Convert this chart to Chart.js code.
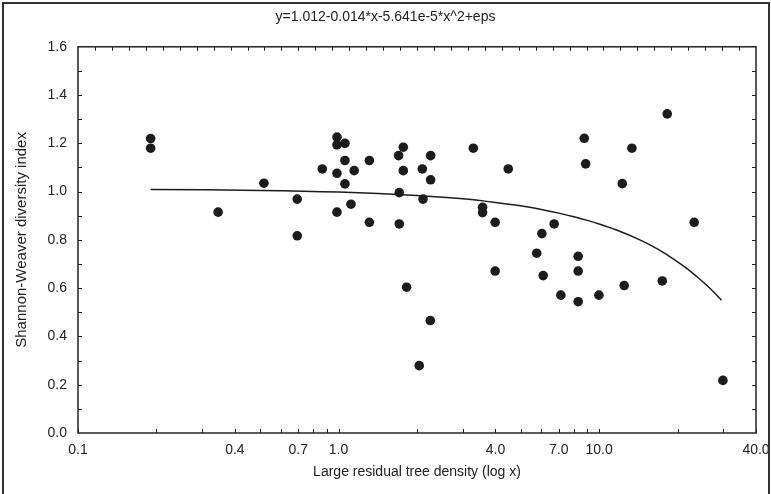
<!DOCTYPE html>
<html>
<head>
<meta charset="utf-8">
<script src="https://cdn.jsdelivr.net/npm/chart.js@4.4.1/dist/chart.umd.min.js"></script>
<style>
  html, body { margin: 0; padding: 0; background: #fff; }
  #wrap { position: relative; width: 771px; height: 494px; overflow: hidden; }
  #frame { position: absolute; left: 2px; top: 2px; width: 764px; height: 500px;
           border: 2px solid #333; pointer-events: none; }
</style>
</head>
<body>
<div id="wrap">
  <canvas id="myChart" width="771" height="494"></canvas>
  <div id="frame"></div>
</div>
<script>
  const titleText = "y=1.012-0.014*x-5.641e-5*x^2+eps";
  const xTitle = "Large residual tree density (log x)";
  const yTitle = "Shannon-Weaver diversity index";

  // tick labels on the log axis
  const xTickValues = [0.1, 0.4, 0.7, 1.0, 4.0, 7.0, 10.0, 40.0];

  const densityX = [
    0.19, 0.19, 0.345, 0.517, 0.694, 0.694, 0.866, 0.986, 0.986, 1.058,
    0.986, 1.058, 1.148, 1.058, 0.986, 1.116, 1.313, 1.313, 1.772, 1.70,
    1.772, 1.71, 1.71, 2.256, 2.096, 2.256, 2.11, 1.825, 2.249, 2.04,
    3.29, 3.57, 3.57, 3.99, 3.99, 4.48, 6.72, 6.03, 5.76, 6.10,
    7.13, 8.31, 8.31, 8.31, 8.77, 8.88, 9.98, 12.27, 13.36, 12.48,
    17.47, 18.25, 23.17, 29.86
  ];
  const diversityY = [
    1.22, 1.18, 0.915, 1.035, 0.969, 0.817, 1.094, 1.226, 1.194, 1.20,
    1.076, 1.129, 1.087, 1.032, 0.915, 0.948, 1.129, 0.873, 1.184, 1.149,
    1.087, 0.996, 0.866, 1.149, 1.094, 1.049, 0.969, 0.604, 0.466, 0.279,
    1.18, 0.935, 0.913, 0.873, 0.671, 1.094, 0.866, 0.826, 0.745, 0.652,
    0.571, 0.732, 0.671, 0.544, 1.221, 1.115, 0.571, 1.033, 1.18, 0.611,
    0.630, 1.322, 0.873, 0.218
  ];

  // fitted curve, read at a few x positions
  const fitX = [0.19, 0.5, 1, 2, 3, 4, 5, 6, 7, 8, 9, 10, 12, 14, 16, 18, 20, 22, 24, 26, 28, 29.5];
  const fitY = [1.009, 1.005, 0.998, 0.984, 0.970, 0.955, 0.941, 0.926, 0.911, 0.896, 0.881,
                0.866, 0.836, 0.805, 0.774, 0.742, 0.709, 0.677, 0.643, 0.610, 0.576, 0.550];

  const fontFam = "'Liberation Sans', Arial, sans-serif";
  const ink = "#222";

  const points = densityX.map((x, i) => ({ x: x, y: diversityY[i] }));
  const curve = fitX.map((x, i) => ({ x: x, y: fitY[i] }));

  // frame round the plot plus the small inward ticks
  const frameTicks = {
    id: "frameTicks",
    afterDraw(chart) {
      const { ctx, chartArea: a, scales } = chart;
      const xs = scales.x, ys = scales.y;
      ctx.save();
      ctx.strokeStyle = ink;
      ctx.lineWidth = 1;
      ctx.beginPath();
      // bottom: log minor ticks
      for (let d = 0.1; d < 50; d *= 10) {
        for (let k = 1; k <= 9; k++) {
          const v = d * k;
          if (v < 0.1 - 1e-9 || v > 40 + 1e-9) continue;
          const px = Math.round(xs.getPixelForValue(v)) + 0.5;
          ctx.moveTo(px, a.bottom);
          ctx.lineTo(px, a.bottom - 4);
        }
      }
      // top: evenly spaced ticks
      for (let i = 1; i < 40; i++) {
        const px = Math.round(a.left + i * (a.right - a.left) / 40) + 0.5;
        ctx.moveTo(px, a.top);
        ctx.lineTo(px, a.top + 4);
      }
      // left and right: every 0.1
      for (let i = 1; i < 16; i++) {
        const py = Math.round(ys.getPixelForValue(i / 10)) + 0.5;
        ctx.moveTo(a.left, py);
        ctx.lineTo(a.left + 4, py);
        ctx.moveTo(a.right, py);
        ctx.lineTo(a.right - 4, py);
      }
      ctx.stroke();
      ctx.lineWidth = 1.5;
      ctx.strokeRect(a.left, a.top, a.right - a.left, a.bottom - a.top);
      ctx.restore();
    }
  };

  const ctx = document.getElementById("myChart").getContext("2d");
  const chart = new Chart(ctx, {
    type: "scatter",
    data: {
      datasets: [
        {
          label: "plots",
          data: points,
          pointRadius: 4.8,
          pointBackgroundColor: "#1c1c1c",
          pointBorderWidth: 0
        },
        {
          type: "line",
          label: "fit",
          data: curve,
          borderColor: "#1c1c1c",
          borderWidth: 1.5,
          pointRadius: 0,
          tension: 0.3,
          fill: false
        }
      ]
    },
    options: {
      responsive: false,
      animation: false,
      layout: { padding: { left: 0, right: 0, top: 0, bottom: 0 } },
      plugins: {
        legend: { display: false },
        tooltip: { enabled: false },
        title: {
          display: true,
          text: titleText,
          color: ink,
          font: { family: fontFam, size: 14, weight: "normal" },
          padding: { top: 9, bottom: 21 }
        }
      },
      scales: {
        x: {
          type: "logarithmic",
          min: 0.1,
          max: 40,
          grid: { display: false, drawTicks: false },
          border: { display: false },
          afterBuildTicks: (scale) => {
            scale.ticks = xTickValues.map(v => ({ value: v }));
          },
          afterFit: (scale) => {
            scale.height = 61;
            scale.paddingRight = 15;
          },
          ticks: {
            autoSkip: false,
            maxRotation: 0,
            padding: 9,
            color: ink,
            font: { family: fontFam, size: 14 },
            callback: (v) => Number(v).toFixed(1)
          },
          title: {
            display: true,
            text: xTitle,
            color: ink,
            font: { family: fontFam, size: 14 },
            padding: { top: 0, bottom: 13 }
          }
        },
        y: {
          min: 0,
          max: 1.6,
          grid: { display: false, drawTicks: false },
          border: { display: false },
          afterFit: (scale) => { scale.width = 78; },
          ticks: {
            stepSize: 0.2,
            padding: 11,
            color: ink,
            font: { family: fontFam, size: 14 },
            callback: (v) => Number(v).toFixed(1)
          },
          title: {
            display: true,
            text: yTitle,
            color: ink,
            font: { family: fontFam, size: 15 },
            padding: { top: 13, bottom: 0 }
          }
        }
      }
    },
    plugins: [frameTicks]
  });
</script>
</body>
</html>
